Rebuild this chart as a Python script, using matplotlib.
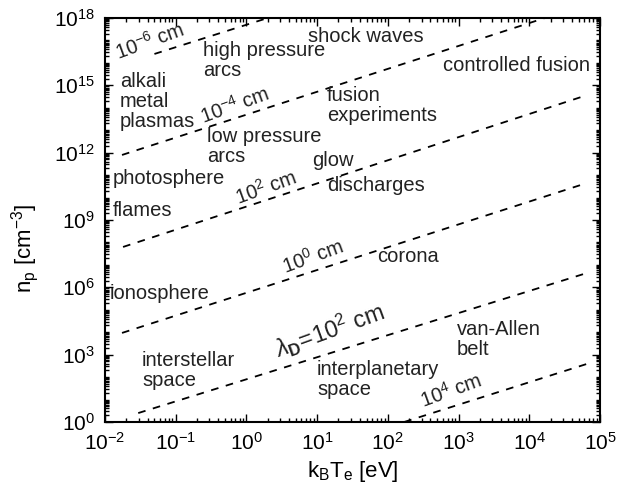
import numpy as np
import matplotlib
matplotlib.use("Agg")
import matplotlib.pyplot as plt
from matplotlib.ticker import FixedLocator, NullFormatter, LogFormatterSciNotation

plt.rcParams['font.family'] = ['Liberation Sans', 'DejaVu Sans']
plt.rcParams['mathtext.fontset'] = 'custom'
plt.rcParams['mathtext.rm'] = 'Liberation Sans'
plt.rcParams['mathtext.it'] = 'Liberation Sans:italic'
plt.rcParams['mathtext.bf'] = 'Liberation Sans:bold'
plt.rcParams['lines.scale_dashes'] = False

# Lineas de longitud de Debye constante: extremos (kT en eV, n en cm^-3)
debye_T_start = [0.05, 0.0174, 0.018, 0.0174, 0.0295, 170.0]
debye_n_start = [2.5e16, 7.9e11, 6.3e7, 9.3e3, 2.5, 1.0]
debye_T_end = [2.0, 1.66e4, 6.6e4, 6.6e4, 6.6e4, 7.2e4]
debye_n_end = [1e18, 1e18, 3.7e14, 4.5e10, 4.4e6, 427.0]

# Etiquetas de las lineas
line_labels = [r'$10^{-6}$ cm', r'$10^{-4}$ cm', r'$10^{2}$ cm', r'$10^{0}$ cm',
               r'$\lambda_{\mathbf{D}}\!=\!10^{2}$ cm', r'$10^{4}$ cm']
line_label_px = [(118, 60), (203, 124), (238, 205), (285, 274), (278, 358), (423, 408)]

# Regiones de plasma
regions = ['shock waves', 'high pressure\narcs', 'alkali\nmetal\nplasmas', 'low pressure\narcs',
           'controlled fusion', 'fusion\nexperiments', 'glow', 'discharges', 'photosphere',
           'flames', 'corona', 'ionosphere', 'interstellar\nspace', 'interplanetary\nspace',
           'van-Allen\nbelt']
region_px = [(308, 27), (203, 41), (120, 72), (207, 127),
             (443, 56), (327, 86), (312, 151), (327, 176), (113, 169),
             (113, 201), (377, 247), (110, 284), (142, 351), (317, 360),
             (457, 320)]

fig = plt.figure(figsize=(6.17, 4.94), dpi=100)
W, H = 617.0, 494.0
x0, x1, y0, y1 = 105.0, 600.0, 18.0, 422.0
ax = fig.add_axes([x0 / W, 1 - y1 / H, (x1 - x0) / W, (y1 - y0) / H])
ax.set_xscale('log')
ax.set_yscale('log')
ax.set_xlim(1e-2, 1e5)
ax.set_ylim(1e0, 1e18)

for i in range(len(debye_T_start)):
    ax.plot([debye_T_start[i], debye_T_end[i]], [debye_n_start[i], debye_n_end[i]],
            color='black', lw=1.3, dashes=(5.5, 5.5), clip_on=True)

def px2ax(p):
    return ((p[0] - x0) / (x1 - x0), (y1 - p[1]) / (y1 - y0))

for lab, p in zip(line_labels, line_label_px):
    fs = 17 if 'lambda' in lab else 14.5
    ax.text(*px2ax(p), lab, transform=ax.transAxes, fontsize=fs, rotation=20,
            rotation_mode='anchor', ha='left', va='baseline', color='#222222')

for lab, p in zip(regions, region_px):
    ax.text(*px2ax(p), lab, transform=ax.transAxes, fontsize=14.5, ha='left', va='top',
            linespacing=1.05, color='#222222')

# Ticks
ax.xaxis.set_major_locator(FixedLocator([10.0 ** k for k in range(-2, 6)]))
ax.xaxis.set_minor_locator(FixedLocator([s * 10.0 ** k for k in range(-2, 5) for s in range(2, 10)]))
ax.yaxis.set_major_locator(FixedLocator([10.0 ** k for k in range(0, 19, 3)]))
ax.yaxis.set_minor_locator(FixedLocator([s * 10.0 ** k for k in range(0, 18) for s in range(1, 10)
                                         if not (s == 1 and k % 3 == 0)]))
ax.xaxis.set_major_formatter(LogFormatterSciNotation())
ax.yaxis.set_major_formatter(LogFormatterSciNotation())
ax.xaxis.set_minor_formatter(NullFormatter())
ax.yaxis.set_minor_formatter(NullFormatter())
ax.tick_params(which='both', direction='in', top=True, right=True, labelsize=15, width=1.0)
ax.tick_params(which='major', length=6, pad=7)
ax.tick_params(which='minor', length=3)
for s in ax.spines.values():
    s.set_linewidth(1.5)

ax.set_xlabel(r'k$_\mathregular{B}$T$_\mathregular{e}$ [eV]', fontsize=16, labelpad=4)
ax.set_ylabel(r'n$_\mathregular{p}$ [cm$^\mathregular{-3}$]', fontsize=16)
ax.yaxis.set_label_coords(-0.13, 0.43)

fig.savefig('out.png', dpi=100)
